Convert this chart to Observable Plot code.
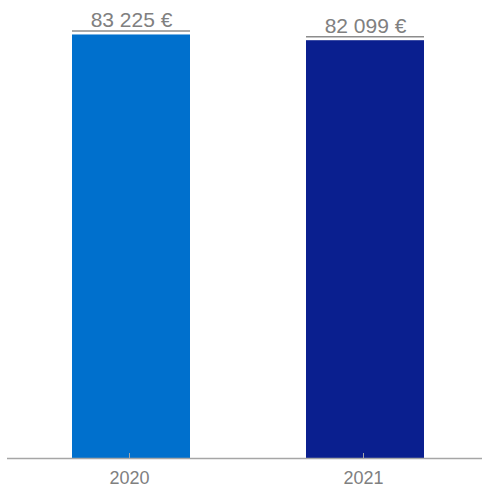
<!DOCTYPE html>
<html>
<head>
<meta charset="utf-8">
<script src="https://cdn.jsdelivr.net/npm/d3@7"></script>
<script src="https://cdn.jsdelivr.net/npm/@observablehq/plot@0.6"></script>
<style>
  html, body { margin: 0; padding: 0; background: #fff; }
  svg { display: block; }
</style>
</head>
<body>
<div id="chart"></div>
<script>
const years = ["2020", "2021"];
const values = [83225, 82099];
const labels = ["83 225 €", "82 099 €"];
const colors = ["#0070cd", "#0a1f8f"];

const data = years.map((y, i) => ({year: y, value: values[i], label: labels[i]}));

const chart = Plot.plot({
  width: 482,
  height: 489,
  marginTop: 0,
  marginBottom: 31,
  marginLeft: 7,
  marginRight: 0,
  style: {fontFamily: "Arial, 'Liberation Sans', sans-serif", background: "#fff"},
  x: {domain: years, paddingInner: 0.4936, paddingOuter: 0.2575, align: 0.529, label: null},
  y: {domain: [0, 90000], axis: null},
  color: {domain: years, range: colors},
  marks: [
    Plot.barY(data, {x: "year", y: "value", fill: "year"}),
    Plot.tickY(data, {x: "year", y: "value", dy: -4, stroke: "#8c8c8c", strokeWidth: 1.5}),
    Plot.text(data, {x: "year", y: "value", text: "label", dy: -8, lineAnchor: "bottom", fontSize: 21, fill: "#808080"}),
    Plot.ruleY([0], {stroke: "#a6a6a6", strokeWidth: 1.5}),
    Plot.axisX({tickSize: -5, tickPadding: 18, fontSize: 18, color: "#808080", stroke: "#a6a6a6", dx: -2})
  ]
});
document.getElementById("chart").appendChild(chart);
</script>
</body>
</html>
